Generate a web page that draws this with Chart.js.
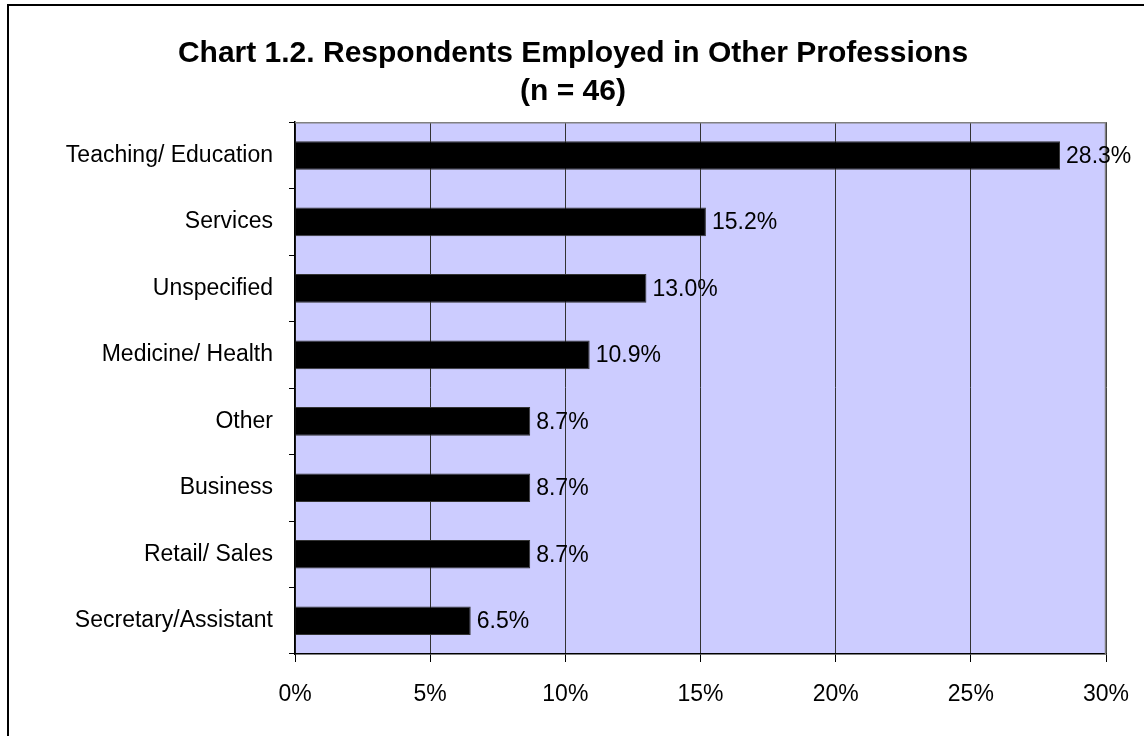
<!DOCTYPE html>
<html>
<head>
<meta charset="utf-8">
<title>Chart 1.2</title>
<script src="https://cdn.jsdelivr.net/npm/chart.js@4/dist/chart.umd.min.js"></script>
<style>
  html, body { margin: 0; padding: 0; background: #fff; overflow: hidden; }
  #frame {
    position: absolute; left: 7px; top: 4px; width: 1400px; height: 1000px;
    border-top: 2px solid #000; border-left: 2px solid #000;
  }
  #chart { position: absolute; left: 0; top: 0; }
</style>
</head>
<body>
<div id="frame"></div>
<canvas id="chart" width="1144" height="736"></canvas>
<script>
// chart data
const categories = [
  "Teaching/ Education", "Services", "Unspecified", "Medicine/ Health",
  "Other", "Business", "Retail/ Sales", "Secretary/Assistant"
];
const percents = [28.3, 15.2, 13.0, 10.9, 8.7, 8.7, 8.7, 6.5];
const xTicks = [0, 5, 10, 15, 20, 25, 30];
const titleLines = ["Chart 1.2. Respondents Employed in Other Professions", "(n = 46)"];

const FONT = "'Liberation Sans', Arial, sans-serif";

// plot background + grey top/right border
const plotFrame = {
  id: "plotFrame",
  beforeDraw(chart) {
    const { ctx, chartArea: a } = chart;
    ctx.save();
    ctx.fillStyle = "#ccccff";
    ctx.fillRect(a.left, a.top, a.right - a.left, a.bottom - a.top);
    ctx.restore();
  },
  beforeDatasetsDraw(chart) {
    const { ctx, chartArea: a } = chart;
    ctx.save();
    ctx.strokeStyle = "#808080";
    ctx.lineWidth = 1.5;
    ctx.beginPath();
    ctx.moveTo(a.left, a.top + 0.5);
    ctx.lineTo(a.right - 0.5, a.top + 0.5);
    ctx.lineTo(a.right - 0.5, a.bottom);
    ctx.stroke();
    ctx.restore();
  }
};

// value labels at the end of each bar
const barLabels = {
  id: "barLabels",
  afterDatasetsDraw(chart) {
    const { ctx } = chart;
    const meta = chart.getDatasetMeta(0);
    ctx.save();
    ctx.font = "23px " + FONT;
    ctx.fillStyle = "#000";
    ctx.textAlign = "left";
    ctx.textBaseline = "middle";
    meta.data.forEach((bar, i) => {
      ctx.fillText(percents[i].toFixed(1) + "%", bar.x + 6, bar.y + 1);
    });
    ctx.restore();
  }
};

new Chart(document.getElementById("chart"), {
  type: "bar",
  data: {
    labels: categories,
    datasets: [{
      data: percents,
      backgroundColor: "#000",
      borderColor: "#333",
      borderWidth: 1,
      categoryPercentage: 1,
      barPercentage: 0.43
    }]
  },
  options: {
    indexAxis: "y",
    responsive: false,
    animation: false,
    layout: { padding: { left: 40, right: 38, top: 0, bottom: 0 } },
    plugins: {
      legend: { display: false },
      tooltip: { enabled: false },
      title: {
        display: true,
        text: titleLines,
        color: "#000",
        font: { family: FONT, size: 30, weight: "bold", lineHeight: 1.27 },
        padding: { top: 35, bottom: 11 }
      }
    },
    scales: {
      x: {
        min: 0,
        max: 30,
        afterFit: (s) => { s.height = 82; s.paddingRight = 0; s.paddingLeft = 0; },
        afterBuildTicks: (s) => { s.ticks = xTicks.map(v => ({ value: v })); },
        ticks: {
          color: "#000",
          font: { family: FONT, size: 23 },
          padding: 19,
          maxRotation: 0,
          callback: (v) => v + "%"
        },
        grid: {
          color: "#333",
          tickColor: "#000",
          tickLength: 8,
          lineWidth: 1
        },
        border: { color: "#000", width: 1.5 }
      },
      y: {
        afterFit: (s) => { s.width = 255; },
        ticks: {
          color: "#000",
          font: { family: FONT, size: 23 },
          padding: 16
        },
        grid: {
          offset: true,
          drawOnChartArea: false,
          tickColor: "#000",
          tickLength: 6
        },
        border: { color: "#000", width: 1.5 }
      }
    }
  },
  plugins: [plotFrame, barLabels]
});
</script>
</body>
</html>
